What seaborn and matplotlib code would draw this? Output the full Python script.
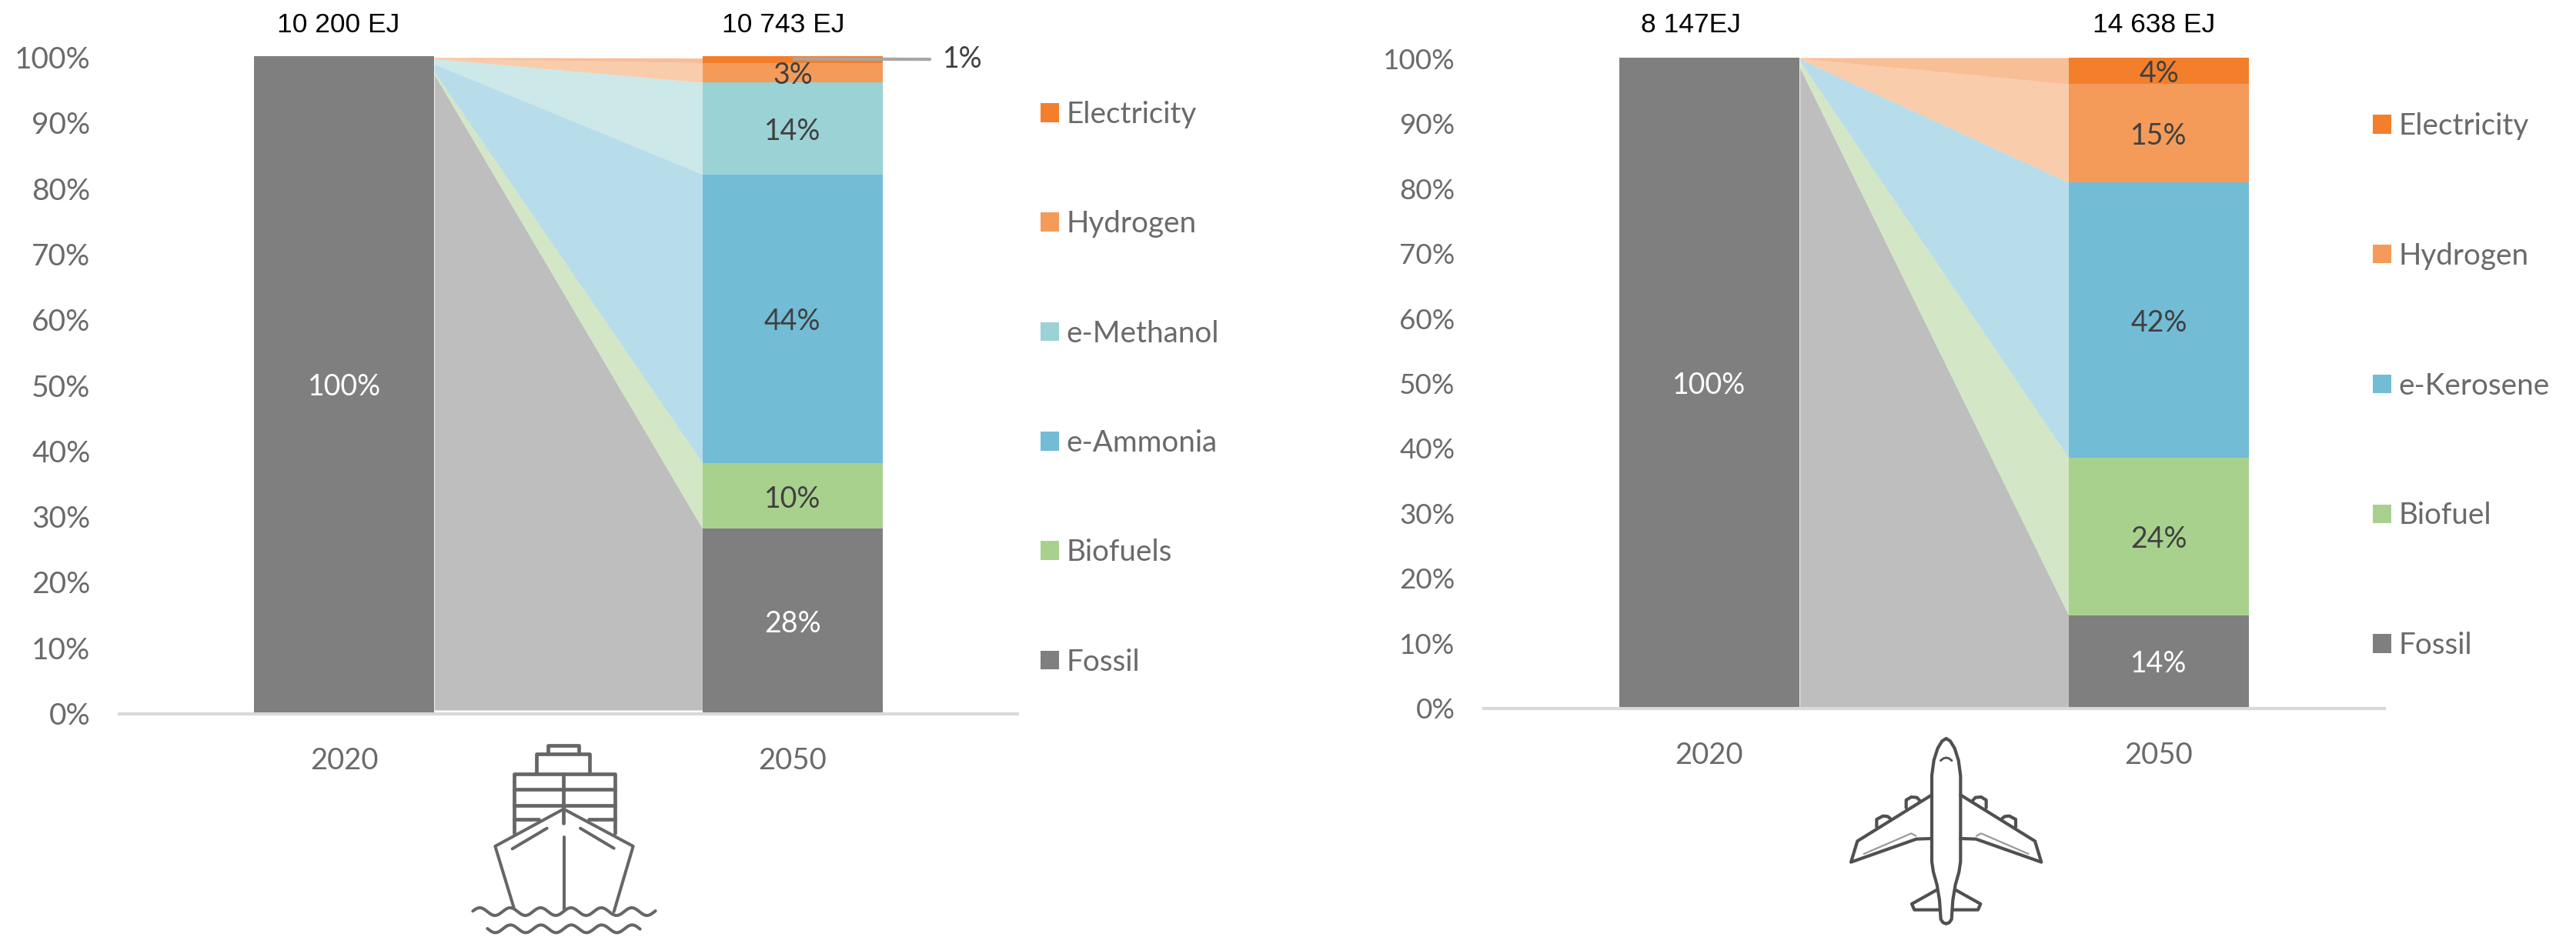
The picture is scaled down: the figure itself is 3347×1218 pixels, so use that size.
import numpy as np
import pandas as pd
import matplotlib
matplotlib.use("Agg")
import matplotlib.pyplot as plt
from matplotlib.patches import Patch
from matplotlib.transforms import ScaledTranslation
import seaborn as sns

sns.set_theme(style="white")
plt.rcParams["font.family"] = ["Lato", "DejaVu Sans"]

W, H = 3347, 1218
YEARS = ["2020", "2050"]
Y_TICKS = list(range(0, 101, 10))

# Shipping fuel mix, bottom of the stack first (% of demand)
ship_fuels = ["Fossil", "Biofuels", "e-Ammonia", "e-Methanol", "Hydrogen", "Electricity"]
ship_2020 = [100, 0, 0, 0, 0, 0]
ship_2050 = [28, 10, 44, 14, 3, 1]
ship_colors = ["#7F7F7F", "#A9D18E", "#72BCD6", "#9BD2D5", "#F49B5A", "#F37E2C"]
ship_totals = ["10 200 EJ", "10 743 EJ"]
# Upper edge of each connecting band where it leaves the 2020 column
ship_band_start = [97.2, 97.6, 98.8, 99.6, 99.7, 99.8]
ship_band_end_top = 99.7
ship_band_floor = 0.35

# Aviation fuel mix
air_fuels = ["Fossil", "Biofuel", "e-Kerosene", "Hydrogen", "Electricity"]
air_2020 = [100, 0, 0, 0, 0]
air_2050 = [14, 24, 42, 15, 4]
air_colors = ["#7F7F7F", "#A9D18E", "#72BCD6", "#F49B5A", "#F37E2C"]
air_totals = ["8 147EJ", "14 638 EJ"]
air_band_start = [98.5, 99.5, 99.8, 99.9, 100.0]
air_band_end_top = 100.0
air_band_floor = 0.0

TICK_GREY = "#6A6A6A"
LABEL_DARK = "#404040"
BAR_WIDTH = 0.402
LABEL_SIZE = 27


def px_axes(fig, left, right, top, bottom):
    return fig.add_axes([left / W, 1 - bottom / H, (right - left) / W, (bottom - top) / H])


def nudge_down(px):
    return ScaledTranslation(0, -px / 100, fig.dpi_scale_trans)


def stacked_chart(ax, fuels, v2020, v2050, colors, band_start, end_top, floor, tick_size):
    # Both columns are shares of 100 %, so rescale in case rounded labels do not add up
    cum20 = np.cumsum(np.array(v2020, float) / np.sum(v2020) * 100)
    cum50 = np.cumsum(np.array(v2050, float) / np.sum(v2050) * 100)

    # Tallest cumulative first so every lower segment paints over it
    for i in reversed(range(len(fuels))):
        frame = pd.DataFrame({"year": YEARS, "share": [cum20[i], cum50[i]]})
        sns.barplot(data=frame, x="year", y="share", order=YEARS, color=colors[i],
                    saturation=1, width=BAR_WIDTH, linewidth=0, ax=ax, zorder=3)

    # Translucent bands joining the columns
    xs = [BAR_WIDTH / 2, 1 - BAR_WIDTH / 2]
    lower = [floor, floor]
    for i, color in enumerate(colors):
        upper = [band_start[i], cum50[i] if i < len(colors) - 1 else end_top]
        ax.fill_between(xs, lower, upper, color=color, alpha=0.5, linewidth=0, zorder=2)
        lower = upper

    # Axis styling
    ax.set_xlim(-0.5015, 1.5015)
    ax.set_ylim(0, 100)
    ax.set_xlabel("")
    ax.set_ylabel("")
    ax.set_yticks(Y_TICKS)
    ax.set_yticklabels([f"{t}%" for t in Y_TICKS])
    ax.tick_params(axis="y", length=0, pad=27, labelsize=tick_size, labelcolor=TICK_GREY)
    ax.tick_params(axis="x", length=0, pad=31, labelsize=27.5, labelcolor=TICK_GREY)
    for label in ax.get_yticklabels():
        label.set_transform(label.get_transform() + nudge_down(1.5))
    for side in ("top", "left", "right"):
        ax.spines[side].set_visible(False)
    ax.spines["bottom"].set_position(("outward", 1.5))
    ax.spines["bottom"].set_color("#D9D9D9")
    ax.spines["bottom"].set_linewidth(3)
    ax.patch.set_alpha(0)

    # Share labels, centred on their segments
    label_tf = ax.transData + nudge_down(4)
    ax.text(0, 50, "100%", color="white", ha="center", va="center",
            fontsize=LABEL_SIZE, zorder=5, transform=label_tf)
    bottoms = np.concatenate([[0], cum50[:-1]])
    for i, value in enumerate(v2050):
        if value < 2:
            continue
        color = "white" if fuels[i] == "Fossil" else LABEL_DARK
        ax.text(1, (bottoms[i] + cum50[i]) / 2, f"{value}%", color=color, ha="center",
                va="center", fontsize=LABEL_SIZE, zorder=5, transform=label_tf)


def draw_legend(ax, fuels, colors, x_px, y_px, spacing):
    handles = [Patch(facecolor=c, edgecolor="none", label=f) for f, c in zip(fuels, colors)]
    ax.legend(handles=handles[::-1], loc="upper left", frameon=False,
              bbox_to_anchor=(x_px / W, 1 - y_px / H), bbox_transform=ax.figure.transFigure,
              fontsize=27.8, labelcolor=TICK_GREY, borderpad=0, borderaxespad=0,
              handlelength=0.62, handleheight=0.6, handletextpad=0.24, labelspacing=spacing)


fig = plt.figure(figsize=(W / 100, H / 100), dpi=100, facecolor="white")

# Shipping panel
ax_ship = px_axes(fig, 155, 1322, 73, 926)
stacked_chart(ax_ship, ship_fuels, ship_2020, ship_2050, ship_colors,
              ship_band_start, ship_band_end_top, ship_band_floor, 28)
ax_ship.annotate(f"{ship_2050[-1]}%", xy=(1.003, 99.6), xytext=(1.3356, 99.5), color=LABEL_DARK,
                 fontsize=LABEL_SIZE, va="center", ha="left", annotation_clip=False, zorder=6,
                 arrowprops=dict(arrowstyle="-", color="#A6A6A6", lw=3, shrinkA=10, shrinkB=0))
draw_legend(ax_ship, ship_fuels, ship_colors, 1352, 131, 2.754)

# Aviation panel
ax_air = px_axes(fig, 1928, 3098, 75, 919)
stacked_chart(ax_air, air_fuels, air_2020, air_2050, air_colors,
              air_band_start, air_band_end_top, air_band_floor, 26.5)
draw_legend(ax_air, air_fuels, air_colors, 3083, 146, 3.44)

# Page-level layer in pixel units for totals and pictograms
page = fig.add_axes([0, 0, 1, 1])
page.set_xlim(0, W)
page.set_ylim(H, 0)
page.axis("off")
page.patch.set_alpha(0)

for text, x in zip(ship_totals + air_totals, [440, 1018, 2197, 2799]):
    page.text(x, 32, text, ha="center", va="center", color="black", fontsize=25.5,
              family="Liberation Sans")


def stroke(points, ox, oy, color, lw, scale=1 / 3):
    pts = np.array(points, float)
    page.plot(ox + pts[:, 0] * scale, oy + pts[:, 1] * scale, color=color, lw=lw,
              solid_capstyle="round", solid_joinstyle="round")


# Container ship, front view
SHIP_COLOR = "#666666"


def ship_line(points, lw=3.4):
    stroke(points, 500, 880, SHIP_COLOR, lw)


ship_line([(637, 298), (637, 268), (757, 268), (757, 298)])
ship_line([(590, 375), (590, 300), (798, 300), (798, 375)])
ship_line([(503, 610), (503, 378), (897, 378), (897, 610)])
ship_line([(503, 438), (897, 438)])
ship_line([(503, 500), (897, 500)])
ship_line([(503, 555), (600, 555)])
ship_line([(795, 555), (897, 555)])
ship_line([(697, 378), (697, 570)])
ship_line([(503, 900), (430, 660), (697, 515), (968, 660), (893, 915)], 2.9)
ship_line([(497, 670), (632, 590)], 2.9)
ship_line([(762, 590), (893, 668)], 2.9)
ship_line([(698, 625), (698, 905)], 2.9)
wave_a = np.linspace(343, 1055, 160)
ship_line(np.column_stack([wave_a, 915 - 15 * np.cos((wave_a - 370) / 118.5 * 2 * np.pi)]), 2.9)
wave_b = np.linspace(400, 995, 140)
ship_line(np.column_stack([wave_b, 982 - 15 * np.cos((wave_b - 490) / 118.5 * 2 * np.pi)]), 2.9)

# Airliner, top view, mirrored about its centre line
AXIS_X = 836


def plane_line(points, color="#505050", lw=3.0):
    stroke(points, 2250, 880, color, lw)
    mirrored = [(2 * AXIS_X - x, y) for x, y in points]
    stroke(mirrored, 2250, 880, color, lw)


plane_line([(836, 240), (820, 250), (803, 278), (788, 325), (780, 385), (780, 720),
            (786, 760), (800, 810), (810, 870), (815, 945), (824, 958), (836, 962)])
plane_line([(780, 460), (490, 640), (465, 722), (720, 632), (780, 630)])
plane_line([(680, 510), (680, 480), (700, 468), (722, 470), (733, 482)])
plane_line([(565, 585), (565, 555), (590, 542), (608, 544), (618, 552)])
plane_line([(800, 830), (702, 885), (712, 908), (812, 908)])
plane_line([(814, 326), (826, 317), (836, 315)], lw=2.0)
plane_line([(515, 690), (700, 610), (718, 620)], color="#9A9A9A", lw=1.6)

fig.savefig("out.png", dpi=100, facecolor="white")
